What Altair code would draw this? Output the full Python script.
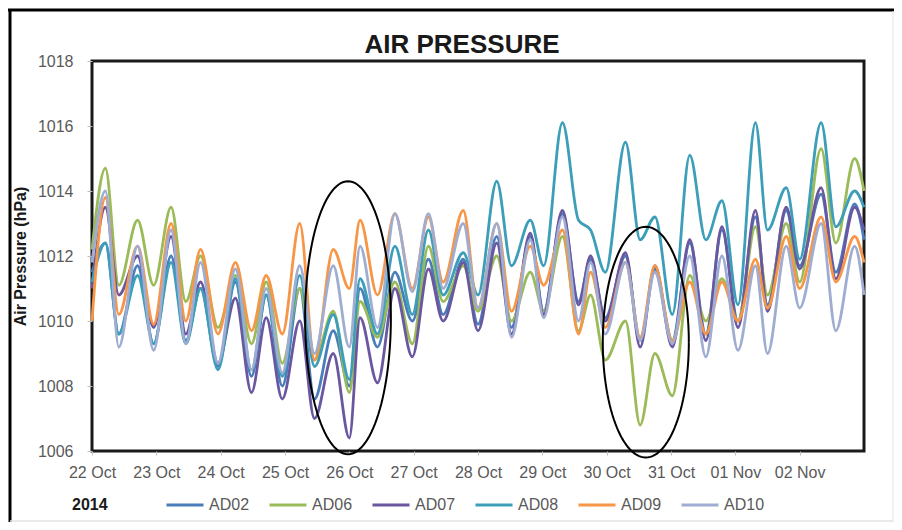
import altair as alt
import pandas as pd
import numpy as np

# hours since 22 Oct 2014 00:00 (UTC) at which values were read
hours = [0, 5, 10, 17, 23,
         29.5, 35, 40.5, 47,
         53.5, 59.5, 65, 71,
         77.5, 83, 90, 96,
         100, 106.5, 113, 119.5,
         125.5, 131, 138.5, 144,
         151, 156.5, 163.5, 168.5,
         175.5, 181.5, 186, 191.5,
         199, 204.5, 210, 216.5,
         223, 229, 235, 241,
         247.5, 252, 259, 264,
         272, 277.5, 284.5, 288]

AD02 = [1011.5, 1012.4, 1009.6, 1011.7, 1009.3,
        1012.0, 1009.4, 1011.0, 1008.6,
        1011.2, 1008.3, 1010.8, 1008.0,
        1011.0, 1007.6, 1009.7, 1008.0,
        1011.0, 1009.2, 1011.5, 1010.0,
        1011.9, 1010.2, 1011.9, 1009.9,
        1012.6, 1009.8, 1012.6, 1010.3,
        1013.3, 1010.6, 1011.9, 1010.1,
        1012.0, 1009.4, 1011.6, 1009.4,
        1012.4, 1009.6, 1012.8, 1010.0,
        1013.2, 1010.5, 1013.4, 1011.7,
        1013.9, 1011.5, 1013.6, 1012.5]

AD06 = [1012.2, 1014.7, 1011.1, 1013.1, 1011.1,
        1013.5, 1010.6, 1012.0, 1009.8,
        1011.4, 1009.3, 1011.2, 1008.7,
        1011.0, 1008.8, 1010.3, 1007.8,
        1010.6, 1009.5, 1011.2, 1009.3,
        1012.3, 1010.6, 1011.7, 1010.3,
        1012.0, 1010.0, 1011.5, 1010.3,
        1012.6, 1009.7, 1010.8, 1008.8,
        1010.0, 1006.8, 1009.0, 1007.7,
        1011.4, 1010.0, 1011.3, 1010.0,
        1012.9, 1010.8, 1013.0, 1011.2,
        1015.3, 1012.4, 1015.0, 1014.0]

AD07 = [1011.0, 1013.5, 1010.8, 1012.0, 1009.8,
        1012.6, 1009.6, 1011.2, 1008.7,
        1010.7, 1007.8, 1010.1, 1007.6,
        1010.0, 1007.0, 1009.0, 1006.4,
        1010.1, 1008.1, 1011.0, 1008.9,
        1011.6, 1010.0, 1011.8, 1009.7,
        1012.4, 1009.6, 1012.7, 1010.2,
        1013.4, 1010.5, 1012.0, 1010.0,
        1012.1, 1009.2, 1011.7, 1009.2,
        1012.5, 1009.4, 1012.9, 1009.8,
        1013.4, 1010.3, 1013.5, 1011.6,
        1014.1, 1011.3, 1013.5, 1012.8]

AD08 = [1011.2, 1012.4, 1009.6, 1011.4, 1009.3,
        1011.8, 1009.3, 1011.0, 1008.5,
        1011.3, 1008.5, 1010.8, 1008.3,
        1011.4, 1008.6, 1010.2, 1008.2,
        1011.3, 1009.6, 1012.3, 1010.2,
        1012.8, 1010.8, 1012.1, 1010.8,
        1014.3, 1011.7, 1013.1, 1011.7,
        1016.1, 1013.1, 1012.8, 1011.5,
        1015.5, 1012.5, 1013.2, 1010.2,
        1015.1, 1012.5, 1013.7, 1010.5,
        1016.1, 1012.8, 1014.1, 1011.9,
        1016.1, 1012.9, 1014.0, 1013.5]

AD09 = [1010.0, 1013.8, 1010.2, 1012.3, 1009.9,
        1013.0, 1010.0, 1012.2, 1009.6,
        1011.8, 1009.7, 1011.4, 1009.6,
        1013.0, 1008.8, 1012.2, 1011.0,
        1013.1, 1010.8, 1013.3, 1011.0,
        1013.2, 1011.2, 1013.4, 1010.4,
        1013.0, 1010.3, 1012.3, 1011.1,
        1012.8, 1009.6, 1011.5, 1009.8,
        1011.8, 1009.5, 1011.7, 1009.4,
        1011.2, 1009.6, 1011.2, 1010.0,
        1011.9, 1010.4, 1012.6, 1011.0,
        1013.2, 1011.2, 1012.6, 1011.8]

AD10 = [1011.8, 1014.0, 1009.2, 1012.3, 1009.1,
        1012.8, 1009.3, 1011.8, 1008.7,
        1011.6, 1008.5, 1011.0, 1008.4,
        1011.7, 1009.0, 1011.7, 1009.2,
        1012.3, 1009.8, 1013.3, 1010.9,
        1013.3, 1011.0, 1013.0, 1010.4,
        1013.0, 1009.5, 1012.5, 1010.1,
        1013.2, 1010.0, 1011.8, 1009.6,
        1011.8, 1009.4, 1011.5, 1009.3,
        1012.0, 1008.9, 1012.0, 1009.1,
        1011.7, 1009.0, 1012.3, 1010.4,
        1013.0, 1009.7, 1012.3, 1010.8]

stations = ["AD02", "AD06", "AD07", "AD08", "AD09", "AD10"]
colors = ["#4A7EBB", "#9BBB59", "#6A57A0", "#3C9EB8", "#F79646", "#9FADD2"]
series = [AD02, AD06, AD07, AD08, AD09, AD10]
tick_days = ["2014-10-%02d" % d for d in range(22, 32)] + ["2014-11-01", "2014-11-02"]
y_ticks = [1006, 1008, 1010, 1012, 1014, 1016, 1018]

# annotation ellipses: centre (hours, hPa) and half-axes (hours, hPa)
ell_cx = [95.5, 206.6]
ell_cy = [1010.1, 1009.35]
ell_rx = [16.0, 16.05]
ell_ry = [4.2, 3.55]

base = pd.Timestamp("2014-10-22")


def iso(h):
    return (base + pd.to_timedelta(h, unit="h")).strftime("%Y-%m-%dT%H:%M:%SZ")


rows = []
for name, vals in zip(stations, series):
    for i, (h, v) in enumerate(zip(hours, vals)):
        rows.append({"time": iso(h), "pressure": v, "station": name, "i": i})
df = pd.DataFrame(rows)

erows = []
t = np.linspace(0, 2 * np.pi, 121)
for k in range(len(ell_cx)):
    for j, a in enumerate(t):
        erows.append({"time": iso(ell_cx[k] + ell_rx[k] * np.cos(a)),
                      "pressure": ell_cy[k] + ell_ry[k] * np.sin(a),
                      "e": k, "j": j})
edf = pd.DataFrame(erows)

xscale = alt.Scale(type="utc", domain=["2014-10-22T00:00:00Z", "2014-11-03T00:00:00Z"])
yscale = alt.Scale(domain=[1006, 1018])

x_axis = alt.Axis(values=[d + "T00:00:00Z" for d in tick_days],
                  labelExpr="utcFormat(datum.value, '%d %b')",
                  labelFontSize=16, labelColor="#595959",
                  labelFont="Liberation Sans", labelPadding=9, tickSize=4,
                  tickColor="#bfbfbf", domain=False, grid=False, labelFlush=False)
y_axis = alt.Axis(values=y_ticks, format="d", labelFontSize=16,
                  labelColor="#595959", labelFont="Liberation Sans", tickSize=5,
                  tickColor="#bfbfbf", labelPadding=14, domain=False, grid=False,
                  titleFontSize=16, titleFontWeight="bold", titleFont="Liberation Sans",
                  titleColor="#1a1a1a", titleX=-72, titleY=195, titleAngle=-90,
                  titleBaseline="middle", titleAlign="center")

lines = alt.Chart(df).mark_line(interpolate="monotone", strokeWidth=2.8).encode(
    x=alt.X("time:T", scale=xscale, title=None, axis=x_axis),
    y=alt.Y("pressure:Q", scale=yscale, title="Air Pressure (hPa)", axis=y_axis),
    color=alt.Color("station:N", scale=alt.Scale(domain=stations, range=colors),
                    legend=alt.Legend(orient="none", legendX=73, legendY=424,
                                      direction="horizontal", title=None,
                                      symbolType="stroke", symbolSize=1369,
                                      symbolStrokeWidth=3, labelFontSize=16,
                                      labelFont="Liberation Sans", labelColor="#595959",
                                      labelOffset=4, columnPadding=13, padding=0)),
    order="i:Q",
)

ellipses = alt.Chart(edf).mark_line(color="black", strokeWidth=2, clip=False).encode(
    x=alt.X("time:T", scale=xscale, title=None, axis=x_axis),
    y=alt.Y("pressure:Q", scale=yscale, title="Air Pressure (hPa)", axis=y_axis),
    detail="e:N", order="j:Q"
)

one = pd.DataFrame({"label": ["AIR PRESSURE"], "year": ["2014"]})
title_text = alt.Chart(one).mark_text(fontSize=26, fontWeight="bold", font="Liberation Sans",
                                      color="#1a1a1a", align="center",
                                      baseline="alphabetic").encode(
    text="label:N", x=alt.value(370), y=alt.value(-8))
year_text = alt.Chart(one).mark_text(fontSize=16, fontWeight="bold", font="Liberation Sans",
                                     color="#1a1a1a", align="left",
                                     baseline="middle").encode(
    text="year:N", x=alt.value(-20), y=alt.value(444))
frame_top = alt.Chart(one).mark_rule(color="black", strokeWidth=3).encode(
    x=alt.value(-84), x2=alt.value(802), y=alt.value(-51))
frame_left = alt.Chart(one).mark_rule(color="black", strokeWidth=3).encode(
    x=alt.value(-82), y=alt.value(-52), y2=alt.value(461))
frame_right = alt.Chart(one).mark_rule(color="#e3e3e3", strokeWidth=1).encode(
    x=alt.value(801), y=alt.value(-50), y2=alt.value(461))
frame_bottom = alt.Chart(one).mark_rule(color="#e3e3e3", strokeWidth=1.5).encode(
    x=alt.value(-82), x2=alt.value(801), y=alt.value(460))

chart = alt.layer(lines, ellipses, title_text, year_text,
                  frame_top, frame_left, frame_right, frame_bottom).properties(
    width=772, height=390,
    autosize=alt.AutoSizeParams(type="none"),
    padding={"left": 84, "top": 53, "right": 30, "bottom": 71},
).configure_view(stroke="#1a1a1a", strokeWidth=3).configure_axis(grid=False)

chart.save("out.html", embed_options={"renderer": "svg", "actions": False})
